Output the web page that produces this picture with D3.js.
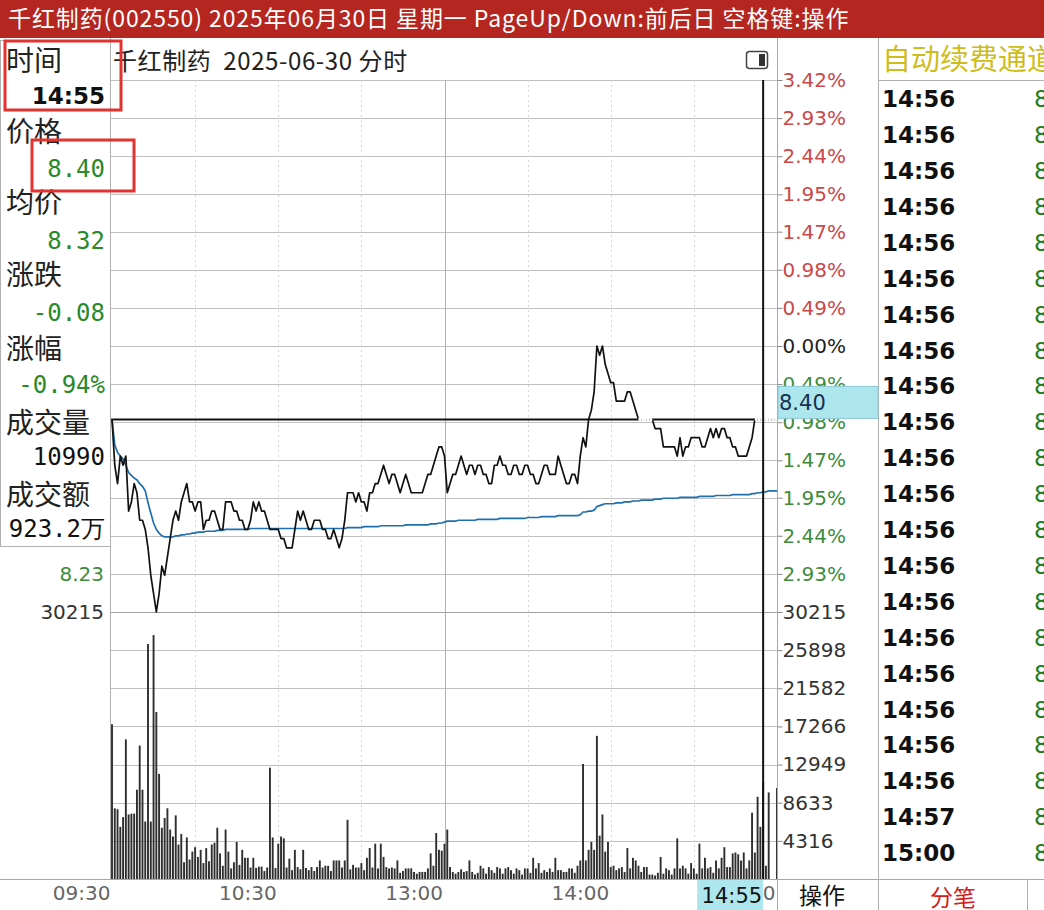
<!DOCTYPE html>
<html><head><meta charset="utf-8">
<script src="https://cdn.jsdelivr.net/npm/d3@7"></script>
<style>body{margin:0;background:#fff;overflow:hidden} text{white-space:pre}</style>
</head><body><svg id="c" width="1044" height="910"></svg>
<script>
// ---------------- DATA ----------------
const prevClose = 8.48;
const prices = [
8.40,8.35,8.33,8.36,8.35,8.36,8.30,8.31,8.33,8.32,
8.29,8.29,8.28,8.26,8.23,8.21,8.19,8.21,8.24,8.23,
8.25,8.27,8.29,8.30,8.29,8.31,8.32,8.33,8.31,8.31,
8.30,8.31,8.31,8.28,8.29,8.29,8.30,8.30,8.29,8.28,
8.28,8.31,8.31,8.31,8.30,8.30,8.29,8.29,8.28,8.28,
8.29,8.31,8.30,8.31,8.30,8.30,8.29,8.28,8.28,8.28,
8.28,8.27,8.27,8.26,8.26,8.26,8.28,8.30,8.29,8.30,
8.29,8.28,8.28,8.29,8.29,8.29,8.28,8.28,8.27,8.27,
8.28,8.27,8.26,8.27,8.29,8.32,8.32,8.32,8.31,8.32,
8.31,8.31,8.30,8.32,8.32,8.33,8.33,8.34,8.35,8.34,
8.33,8.34,8.34,8.33,8.32,8.33,8.34,8.33,8.32,8.32,
8.32,8.32,8.32,8.33,8.34,8.34,8.35,8.36,8.37,8.37,
8.36,8.32,8.33,8.34,8.34,8.35,8.36,8.35,8.34,8.35,
8.35,8.34,8.35,8.35,8.34,8.34,8.33,8.33,8.35,8.35,
8.36,8.35,8.35,8.34,8.34,8.35,8.35,8.34,8.34,8.35,
8.35,8.34,8.34,8.33,8.33,8.34,8.35,8.35,8.34,8.34,
8.34,8.36,8.35,8.34,8.33,8.33,8.34,8.34,8.33,8.36,
8.38,8.37,8.40,8.41,8.43,8.48,8.47,8.48,8.46,8.45,
8.44,8.44,8.42,8.42,8.42,8.42,8.43,8.43,8.42,8.41,
8.40,8.40,8.40,8.40,8.40,8.40,8.39,8.39,8.39,8.37,
8.37,8.37,8.37,8.37,8.36,8.38,8.36,8.37,8.37,8.38,
8.38,8.38,8.38,8.37,8.37,8.38,8.39,8.38,8.39,8.38,
8.39,8.39,8.38,8.38,8.37,8.37,8.36,8.36,8.36,8.36,
8.37,8.38,8.40,8.40,8.40,8.40,8.40,8.40,8.40,8.40,
8.40
];
const avgPrices = [
8.400,8.372,8.364,8.360,8.357,8.350,8.342,8.339,8.336,8.334,
8.330,8.327,8.322,8.309,8.298,8.287,8.280,8.276,8.273,8.272,
8.272,8.272,8.272,8.273,8.273,8.274,8.274,8.275,8.275,8.276,
8.276,8.277,8.277,8.277,8.278,8.278,8.278,8.278,8.279,8.279,
8.279,8.280,8.280,8.280,8.280,8.280,8.280,8.280,8.280,8.280,
8.281,8.281,8.281,8.281,8.281,8.281,8.281,8.281,8.281,8.281,
8.281,8.281,8.281,8.281,8.281,8.281,8.281,8.281,8.281,8.281,
8.281,8.281,8.281,8.281,8.281,8.281,8.281,8.281,8.281,8.281,
8.281,8.281,8.281,8.281,8.281,8.282,8.282,8.282,8.282,8.282,
8.282,8.283,8.283,8.283,8.283,8.283,8.283,8.284,8.284,8.284,
8.284,8.284,8.284,8.284,8.284,8.284,8.285,8.285,8.285,8.285,
8.285,8.285,8.285,8.285,8.285,8.286,8.286,8.286,8.287,8.287,
8.288,8.289,8.289,8.289,8.289,8.290,8.290,8.290,8.290,8.290,
8.290,8.290,8.291,8.291,8.291,8.291,8.291,8.291,8.291,8.291,
8.292,8.292,8.292,8.292,8.292,8.292,8.292,8.292,8.292,8.292,
8.293,8.293,8.293,8.293,8.293,8.294,8.294,8.294,8.294,8.294,
8.294,8.295,8.295,8.295,8.295,8.295,8.295,8.295,8.295,8.296,
8.299,8.299,8.300,8.300,8.301,8.305,8.306,8.307,8.308,8.308,
8.308,8.308,8.309,8.309,8.309,8.310,8.310,8.310,8.311,8.311,
8.311,8.312,8.312,8.312,8.312,8.312,8.313,8.313,8.313,8.314,
8.314,8.314,8.314,8.314,8.314,8.315,8.315,8.315,8.315,8.315,
8.315,8.315,8.316,8.316,8.316,8.316,8.316,8.316,8.317,8.317,
8.317,8.317,8.317,8.317,8.318,8.318,8.318,8.318,8.318,8.318,
8.318,8.319,8.319,8.320,8.320,8.321,8.321,8.322,8.322,8.322,
8.322
];
const volumes = [
17500,8000,7900,5900,7000,15800,7300,7400,7400,10100,
15100,10100,6500,26600,6500,27600,18900,11900,5800,6900,
8000,5600,4800,7200,3900,5100,1900,4700,2200,3100,
3600,2500,3300,1800,3500,2000,3900,4100,5800,2900,
1500,5600,3100,1200,1900,4200,1600,3300,2400,2400,
1300,2400,1250,1400,1400,900,1300,12600,4700,1250,
4000,4800,4600,1300,2300,1000,3300,1350,1100,3300,
1250,1000,1350,900,1350,2100,1300,1500,1500,900,
2100,2100,2100,1300,2100,6700,1100,1600,1300,1300,
1800,1000,2400,3500,1300,4000,1200,4000,2500,1350,
1200,1300,1200,2100,700,900,1200,1200,1200,800,
600,800,800,800,1200,2900,1500,5200,3300,3200,
4000,5600,1350,800,600,800,1100,800,900,2100,
800,500,700,1500,1200,600,1350,1000,700,1350,
1200,600,1200,1350,1000,600,1200,1000,500,1200,
1200,700,2400,1200,1800,700,1000,800,1200,800,
2400,1000,1000,800,800,1200,1200,700,1500,2100,
13000,2100,3300,4200,3300,16200,4900,7300,3100,4200,
1350,1500,1000,1200,1350,800,3500,1200,2400,2100,
1500,800,1350,1350,500,500,400,700,2500,600,
1200,1000,500,1200,4600,1200,1500,1200,600,1800,
1200,600,4000,1200,2400,1200,1350,700,2100,1200,
2400,3600,1350,1350,2900,3000,2800,2100,3000,1200,
2100,7500,3000,9300,5900,10990,1500,9800,0,0,
10300
];
const pctTicks = [3.42,2.93,2.44,1.95,1.47,0.98,0.49,0.00,-0.49,-0.98,-1.47,-1.95,-2.44,-2.93];
const volTicks = [30215,25898,21582,17266,12949,8633,4316];
const timeTicks = [0,60,120,180,240];
const timeLabels = ["09:30","10:30","13:00","14:00","15:00"];
const gridTimes = [30,60,90,120,150,180,210];
const infoLabels = ["时间","价格","均价","涨跌","涨幅","成交量","成交额"];
const infoValues = ["14:55","8.40","8.32","-0.08","-0.94%","10990","923.2万"];
const infoValueColors = ["#111","#2a8a2a","#2a8a2a","#2a8a2a","#2a8a2a","#111","#111"];
const cursorIndex = 235;
const cursorPrice = 8.40;
const cursorTimeLabel = "14:55";
const tradeTimes = ["14:56","14:56","14:56","14:56","14:56","14:56","14:56","14:56","14:56","14:56",
  "14:56","14:56","14:56","14:56","14:56","14:56","14:56","14:56","14:56","14:56","14:57","15:00"];
const tradePrices = ["8.40","8.40","8.40","8.40","8.40","8.40","8.40","8.40","8.40","8.40",
  "8.40","8.40","8.40","8.40","8.40","8.40","8.40","8.40","8.40","8.40","8.40","8.40"];
const titleText = "千红制药(002550) 2025年06月30日 星期一 PageUp/Down:前后日 空格键:操作";
const chartTitle = "千红制药  2025-06-30 分时";

// ---------------- LAYOUT ----------------
const svg = d3.select("#c");
const CJK = "'Noto Sans CJK SC','Noto Sans',sans-serif";
const NUM = "'DejaVu Sans',sans-serif";
const MONO = "'DejaVu Sans Mono',monospace";
const L = 110, R = 777, TOP = 80, MID = 612, BOT = 879;

const x = d3.scaleLinear().domain([0, 240]).range([112, R]);
const yP = d3.scaleLinear().domain([prevClose * (1 - 0.0342), prevClose * (1 + 0.0342)]).range([MID, TOP]);
const yPct = d3.scaleLinear().domain([-3.42, 3.42]).range([MID, TOP]);
const yV = d3.scaleLinear().domain([0, 30215]).range([BOT, MID]);

svg.append("rect").attr("width", 1044).attr("height", 910).attr("fill", "#ffffff");

// title bar
svg.append("rect").attr("x", 0).attr("y", 0).attr("width", 1044).attr("height", 38).attr("fill", "#b4261f");
svg.append("text").attr("x", 8).attr("y", 27).attr("fill", "#fff")
  .attr("font-family", CJK).attr("font-size", 23).attr("letter-spacing", 0.9).text(titleText);

// horizontal price gridlines
svg.append("g").selectAll("line").data(pctTicks).join("line")
  .attr("x1", L).attr("x2", R).attr("y1", d => Math.round(yPct(d)) + 0.5).attr("y2", d => Math.round(yPct(d)) + 0.5)
  .attr("stroke", "#c0c0c0").attr("stroke-width", 1);
// volume gridlines
svg.append("g").selectAll("line").data(volTicks).join("line")
  .attr("x1", L).attr("x2", R).attr("y1", d => Math.round(yV(d)) + 0.5).attr("y2", d => Math.round(yV(d)) + 0.5)
  .attr("stroke", d => d === volTicks[0] ? "#a0a0a0" : "#c0c0c0").attr("stroke-width", 1);
// vertical time gridlines
svg.append("g").selectAll("line").data(gridTimes).join("line")
  .attr("x1", d => Math.round(x(d)) + 0.5).attr("x2", d => Math.round(x(d)) + 0.5)
  .attr("y1", TOP).attr("y2", BOT)
  .attr("stroke", d => d === 120 ? "#b0b0b0" : "#d4d4d4")
  .attr("stroke-dasharray", d => d === 120 ? null : "2,3");

// borders
svg.append("line").attr("x1", L + 0.5).attr("x2", L + 0.5).attr("y1", 38).attr("y2", BOT).attr("stroke", "#b0b0b0");
svg.append("line").attr("x1", 0).attr("x2", 1044).attr("y1", BOT + 0.5).attr("y2", BOT + 0.5).attr("stroke", "#a8a8a8");
svg.append("line").attr("x1", 878.5).attr("x2", 878.5).attr("y1", 38).attr("y2", 910).attr("stroke", "#b0b0b0");
svg.append("line").attr("x1", 878).attr("x2", 1044).attr("y1", 80.5).attr("y2", 80.5).attr("stroke", "#b0b0b0");
svg.append("line").attr("x1", 1027.5).attr("x2", 1027.5).attr("y1", BOT).attr("y2", 910).attr("stroke", "#b0b0b0");

// volume bars
svg.append("g").selectAll("line").data(volumes).join("line")
  .attr("x1", (d, i) => x(i)).attr("x2", (d, i) => x(i))
  .attr("y1", BOT).attr("y2", d => yV(d))
  .attr("stroke", "#2e2e2e").attr("stroke-width", 1.9);

// cursor horizontal line
const cy = yP(cursorPrice);
svg.append("line").attr("x1", L).attr("x2", R).attr("y1", cy).attr("y2", cy)
  .attr("stroke", "#111").attr("stroke-width", 2);

// average line
svg.append("path").datum(avgPrices)
  .attr("d", d3.line().x((d, i) => x(i)).y(d => yP(d)))
  .attr("fill", "none").attr("stroke", "#1f6fae").attr("stroke-width", 1.7);

// price line
svg.append("path").datum(prices)
  .attr("d", d3.line().x((d, i) => x(i)).y(d => yP(d)))
  .attr("fill", "none").attr("stroke", "#111").attr("stroke-width", 1.7).attr("stroke-linejoin", "round");

// XOR-like erase where the price line runs along the cursor line
const flat = d3.range(prices.length - 1).filter(i => prices[i] === cursorPrice && prices[i + 1] === cursorPrice);
svg.append("g").selectAll("line").data(flat).join("line")
  .attr("x1", i => x(i)).attr("x2", i => x(i + 1)).attr("y1", cy).attr("y2", cy)
  .attr("stroke", "#fff").attr("stroke-width", 3);

// cursor vertical line
svg.append("line").attr("x1", x(cursorIndex)).attr("x2", x(cursorIndex)).attr("y1", TOP).attr("y2", BOT)
  .attr("stroke", "#111").attr("stroke-width", 2);

// right axis (pct + volume)
const pctColor = d => d > 0 ? "#c9484a" : (d < 0 ? "#3d8c3d" : "#222");
const gPct = svg.append("g").attr("transform", `translate(${R + 0.5},0)`)
  .call(d3.axisRight(yPct).tickValues(pctTicks).tickSize(5).tickPadding(1)
    .tickFormat(d => Math.abs(d).toFixed(2) + "%"));
gPct.select(".domain").remove();
gPct.selectAll(".tick line").attr("stroke", "#888");
gPct.selectAll(".tick text").attr("font-family", NUM).attr("font-size", 20)
  .attr("fill", d => pctColor(d)).attr("x", 5);
const gVol = svg.append("g").attr("transform", `translate(${R + 0.5},0)`)
  .call(d3.axisRight(yV).tickValues(volTicks).tickSize(5).tickPadding(1).tickFormat(d3.format("d")));
gVol.select(".domain").remove();
gVol.selectAll(".tick line").attr("stroke", "#888");
gVol.selectAll(".tick text").attr("font-family", NUM).attr("font-size", 20).attr("fill", "#333").attr("x", 5);
svg.append("line").attr("x1", R + 0.5).attr("x2", R + 0.5).attr("y1", 38).attr("y2", 910).attr("stroke", "#a8a8a8");

// left axis labels (only those below the info panel are visible)
const PANEL_BOTTOM = 546;
const leftP = pctTicks.filter(d => yPct(d) > PANEL_BOTTOM + 12);
svg.append("g").selectAll("text").data(leftP).join("text")
  .attr("x", 104).attr("y", d => yPct(d)).attr("dy", "0.35em").attr("text-anchor", "end")
  .attr("font-family", NUM).attr("font-size", 20).attr("fill", "#3d8c3d")
  .text(d => (prevClose * (1 + d / 100)).toFixed(2));
svg.append("text").attr("x", 104).attr("y", yV(volTicks[0])).attr("dy", "0.35em").attr("text-anchor", "end")
  .attr("font-family", NUM).attr("font-size", 20).attr("fill", "#333").text(volTicks[0]);

// cursor price tag on right axis
svg.append("rect").attr("x", R + 1).attr("y", cy - 33).attr("width", 100).attr("height", 32)
  .attr("fill", "#aee6ee").attr("stroke", "#8cc8d4");
svg.append("text").attr("x", R + 2).attr("y", cy - 17).attr("dy", "0.35em")
  .attr("font-family", NUM).attr("font-size", 21).attr("fill", "#163050").text(cursorPrice.toFixed(2));

// bottom time axis
const gT = svg.append("g").attr("transform", `translate(0,${BOT})`)
  .call(d3.axisBottom(x).tickValues(timeTicks).tickSize(0).tickPadding(6).tickFormat((d, i) => timeLabels[i]));
gT.select(".domain").remove();
gT.selectAll(".tick text").attr("font-family", NUM).attr("font-size", 20).attr("fill", "#666")
  .attr("text-anchor", "end").attr("x", -2).attr("dy", "0.75em");
// cursor time tag
const ctx = x(cursorIndex);
svg.append("rect").attr("x", ctx - 66).attr("y", BOT + 1).attr("width", 66).attr("height", 31).attr("fill", "#aee6ee");
svg.append("text").attr("x", ctx - 1).attr("y", BOT + 16).attr("dy", "0.38em").attr("text-anchor", "end")
  .attr("font-family", NUM).attr("font-size", 21).attr("fill", "#111").text(cursorTimeLabel);
svg.append("text").attr("x", 822).attr("y", 896).attr("dy", "0.36em").attr("text-anchor", "middle")
  .attr("font-family", CJK).attr("font-size", 23).attr("fill", "#111").text("操作");

// chart header
svg.append("text").attr("x", 113).attr("y", 61).attr("dy", "0.36em")
  .attr("font-family", CJK).attr("font-size", 24).attr("letter-spacing", 0.6).attr("fill", "#222").text(chartTitle);
// small icon
svg.append("rect").attr("x", 746.5).attr("y", 51.5).attr("width", 21).attr("height", 17).attr("rx", 3)
  .attr("fill", "#fff").attr("stroke", "#444").attr("stroke-width", 1.5);
svg.append("rect").attr("x", 759).attr("y", 54).attr("width", 6).attr("height", 12).attr("fill", "#333");

// info panel
svg.append("rect").attr("x", 0.5).attr("y", 40.5).attr("width", L).attr("height", PANEL_BOTTOM - 40)
  .attr("fill", "#fff").attr("stroke", "#b0b0b0");
const labelY = [61, 132, 203, 275, 349, 423, 495];
const valueY = [96, 168, 240, 312, 384, 456, 528];
svg.append("g").selectAll("text").data(infoLabels).join("text")
  .attr("x", 6).attr("y", (d, i) => labelY[i]).attr("dy", "0.36em")
  .attr("font-family", CJK).attr("font-size", 28).attr("fill", "#222").text(d => d);
svg.append("g").selectAll("text").data(infoValues).join("text")
  .attr("x", 105).attr("y", (d, i) => valueY[i]).attr("dy", "0.36em").attr("text-anchor", "end")
  .attr("font-family", (d, i) => i === 0 ? NUM : MONO)
  .attr("font-weight", (d, i) => i === 0 ? "bold" : "normal")
  .attr("font-size", (d, i) => i === 0 ? 23 : 24)
  .attr("fill", (d, i) => infoValueColors[i]).text(d => d);

// red highlight boxes
svg.append("rect").attr("x", 5).attr("y", 41).attr("width", 116).attr("height", 69)
  .attr("fill", "none").attr("stroke", "#e3322f").attr("stroke-width", 3);
svg.append("rect").attr("x", 32).attr("y", 140).attr("width", 102).attr("height", 51)
  .attr("fill", "none").attr("stroke", "#e3322f").attr("stroke-width", 3);

// right trade list
svg.append("text").attr("x", 882).attr("y", 60).attr("dy", "0.36em")
  .attr("font-family", CJK).attr("font-size", 29).attr("fill", "#cdbd1c").text("自动续费通道");
const rows = svg.append("g");
rows.selectAll("text.t").data(tradeTimes).join("text").attr("class", "t")
  .attr("x", 882).attr("y", (d, i) => 99 + i * 35.9).attr("dy", "0.36em")
  .attr("font-family", NUM).attr("font-weight", "bold").attr("font-size", 23).attr("fill", "#111").text(d => d);
rows.selectAll("text.p").data(tradePrices).join("text").attr("class", "p")
  .attr("x", 1034).attr("y", (d, i) => 99 + i * 35.9).attr("dy", "0.36em")
  .attr("font-family", NUM).attr("font-size", 23).attr("fill", "#1d7d1d").text(d => d);
svg.append("text").attr("x", 953).attr("y", 898).attr("dy", "0.36em").attr("text-anchor", "middle")
  .attr("font-family", CJK).attr("font-size", 23).attr("fill", "#d42020").text("分笔");
</script></body></html>
